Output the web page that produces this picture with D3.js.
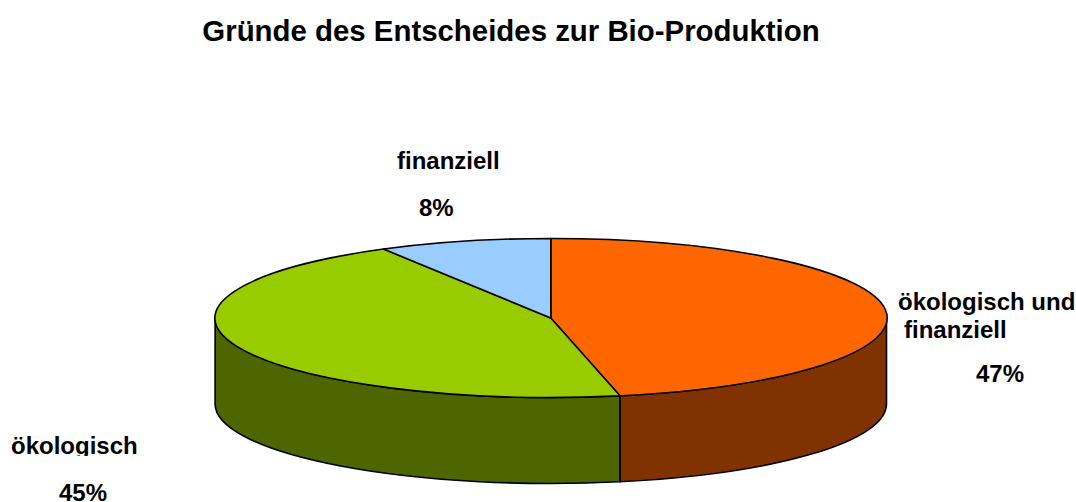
<!DOCTYPE html>
<html>
<head>
<meta charset="utf-8">
<script src="https://cdn.jsdelivr.net/npm/d3@7"></script>
<style>
  html, body { margin: 0; padding: 0; background: #fff; overflow: hidden; }
  svg { display: block; }
  text { font-family: "Liberation Sans", Arial, sans-serif; font-weight: bold; fill: #000; }
</style>
</head>
<body>
<svg width="1076" height="502"></svg>
<script>
// Daten
const title = "Gründe des Entscheides zur Bio-Produktion";
const categories = ["ökologisch und|finanziell", "ökologisch", "finanziell"];
const values = [46.7, 45, 8.3];
const percentLabels = ["47%", "45%", "8%"];

// Farben: Deckfläche und Seitenwand
const topColors = ["#ff6600", "#99cc00", "#99ccff"];
const sideColors = ["#803300", "#4d6600", "#4d6680"];

// Geometrie der Torte
const cx = 550.8, cy = 318, rx = 335.7, ry = 79.5, depth = 86;

const svg = d3.select("svg");

svg.append("text")
  .attr("x", 511)
  .attr("y", 41)
  .attr("text-anchor", "middle")
  .style("font-size", "29.4px")
  .text(title);

const slices = d3.pie().sort(null)(values);

// Punkt auf der Ellipse (Winkel im Uhrzeigersinn ab 12 Uhr)
const px = a => cx + rx * Math.sin(a);
const py = a => cy - ry * Math.cos(a);

// Seitenwände: nur die vordere Hälfte ist sichtbar
const side = svg.append("g");
slices.forEach((d, i) => {
  const a0 = Math.max(d.startAngle, Math.PI / 2);
  const a1 = Math.min(d.endAngle, 3 * Math.PI / 2);
  if (a1 <= a0) return;
  const p = `M${px(a0)},${py(a0)}`
    + `A${rx},${ry} 0 0 1 ${px(a1)},${py(a1)}`
    + `L${px(a1)},${py(a1) + depth}`
    + `A${rx},${ry} 0 0 0 ${px(a0)},${py(a0) + depth}Z`;
  side.append("path")
    .attr("d", p)
    .attr("fill", sideColors[i])
    .attr("stroke", "#000")
    .attr("stroke-width", 1.6)
    .attr("stroke-linejoin", "round");
});

// Deckfläche: Einheitskreis, gestreckt zur Ellipse
const arc = d3.arc().innerRadius(0).outerRadius(1);
svg.append("g")
  .attr("transform", `translate(${cx},${cy}) scale(${rx},${ry})`)
  .selectAll("path")
  .data(slices)
  .join("path")
  .attr("d", arc)
  .attr("fill", (d, i) => topColors[i])
  .attr("stroke", "#000")
  .attr("stroke-width", 1.6)
  .attr("stroke-linejoin", "round")
  .attr("vector-effect", "non-scaling-stroke");

// Beschriftungen: Position je Textzeile und Prozentwert
const labelLayout = [
  { lines: [[898, 310], [904, 338]], pct: [976, 382] },
  { lines: [[11, 454]], pct: [59, 501] },
  { lines: [[397, 169]], pct: [419, 216] }
];

// Unterlängen sind im Original abgeschnitten
svg.append("clipPath").attr("id", "clip-oeko")
  .append("rect").attr("x", 0).attr("y", 420).attr("width", 200).attr("height", 36);

labelLayout.forEach((l, i) => {
  categories[i].split("|").forEach((t, j) => {
    svg.append("text")
      .attr("x", l.lines[j][0]).attr("y", l.lines[j][1])
      .attr("clip-path", i === 1 ? "url(#clip-oeko)" : null)
      .style("font-size", "24px")
      .text(t);
  });
  svg.append("text")
    .attr("x", l.pct[0]).attr("y", l.pct[1])
    .style("font-size", "24px")
    .text(percentLabels[i]);
});
</script>
</body>
</html>
